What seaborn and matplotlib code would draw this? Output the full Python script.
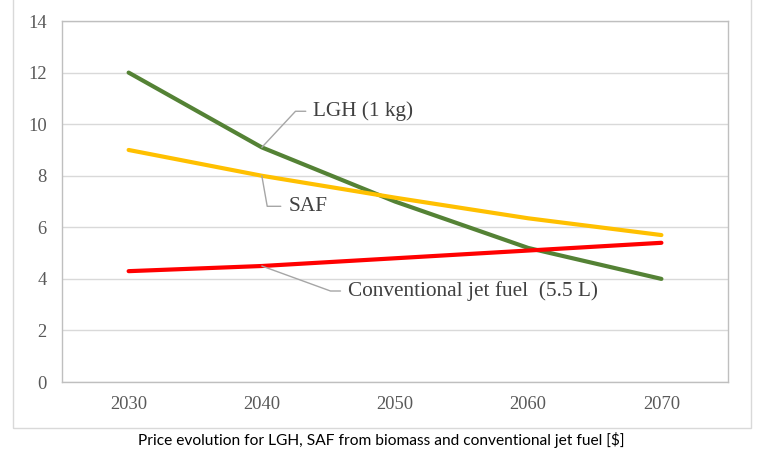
import pandas as pd
import seaborn as sns
import matplotlib.pyplot as plt
from matplotlib.patches import Rectangle

# datos
anios = [2030, 2040, 2050, 2060, 2070]
lgh = [12.0, 9.1, 7.0, 5.2, 4.0]
saf = [9.0, 8.0, 7.15, 6.35, 5.7]
jet_fuel = [4.3, 4.5, 4.8, 5.1, 5.4]

series = ["LGH (1 kg)", "SAF", "Conventional jet fuel  (5.5 L)"]
colores = {"LGH (1 kg)": "#548235", "SAF": "#FFC000",
           "Conventional jet fuel  (5.5 L)": "#FF0000"}

df = pd.DataFrame({
    "Year": anios * 3,
    "Price": lgh + saf + jet_fuel,
    "Serie": [series[0]] * 5 + [series[1]] * 5 + [series[2]] * 5,
})

sns.set_style("white")
plt.rcParams['font.family'] = ['Liberation Serif', 'DejaVu Serif']

fig = plt.figure(figsize=(7.62, 4.57), dpi=100)
ax = fig.add_axes([0.0814, 0.164, 0.874, 0.790])

sns.lineplot(data=df, x="Year", y="Price", hue="Serie", palette=colores,
             linewidth=3.0, legend=False, ax=ax, zorder=3)

ax.set_xlim(2025, 2075)
ax.set_ylim(0, 14)
ax.set_xticks(anios)
ax.set_yticks(range(0, 15, 2))
ax.set_xlabel("")
ax.set_ylabel("")
ax.grid(True, axis="y", color="#D9D9D9", linewidth=1)
ax.grid(False, axis="x")
for s in ax.spines.values():
    s.set_color("#BFBFBF")
    s.set_linewidth(1)
ax.tick_params(length=0, labelsize=13.3, labelcolor="#595959")
ax.tick_params(axis="x", pad=10)
ax.tick_params(axis="y", pad=11)

# etiquetas con lineas guia
gris = "#A6A6A6"
etiquetas = [
    (series[0], lgh[1], (37, 26), 47),
    (series[1], saf[1], (19, -22), 100),
    (series[2], jet_fuel[1], (62, -18), 160),
]
for texto, valor, desplaz, ang in etiquetas:
    ax.annotate(texto, xy=(anios[1], valor), xytext=desplaz,
                textcoords="offset points", ha="left", va="center",
                fontsize=15.3, color="#404040",
                arrowprops=dict(arrowstyle="-", color=gris, lw=1,
                                shrinkA=3, shrinkB=0,
                                connectionstyle=f"angle,angleA=0,angleB={ang},rad=0"))

# marco exterior del grafico
fig.patches.append(Rectangle((13 / 762, 1 - 428 / 457), 738 / 762, 1.2,
                             transform=fig.transFigure, fill=False,
                             edgecolor="#D9D9D9", linewidth=1))

fig.text(0.5, 1 - 440 / 457,
         "Price evolution for LGH, SAF from biomass and conventional jet fuel [$]",
         ha="center", va="center", fontsize=11.2, family=["Lato", "DejaVu Sans"],
         color="black")

fig.savefig("out.png", dpi=100)
